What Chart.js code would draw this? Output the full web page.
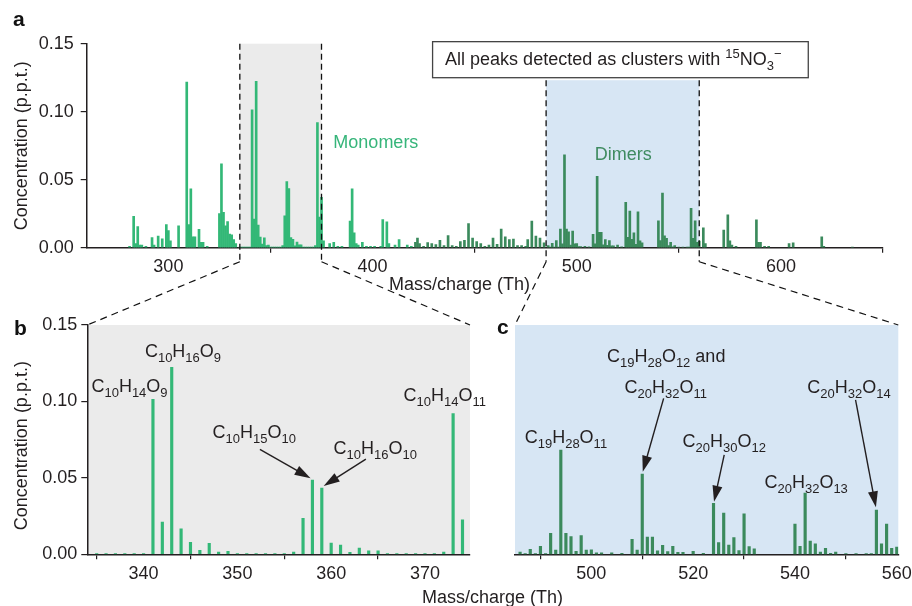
<!DOCTYPE html>
<html>
<head>
<meta charset="utf-8">
<title>HOM monomers and dimers</title>
<script src="https://cdn.jsdelivr.net/npm/chart.js@4.4.1/dist/chart.umd.min.js"></script>
<style>
  body { margin: 0; background: #fff; }
  #figure { position: relative; width: 912px; height: 606px; }
  #figure canvas { position: absolute; left: 0; top: 0; }
</style>
</head>
<body>
<div id="figure">
  <canvas id="chartA" width="912" height="606"></canvas>
  <canvas id="chartB" width="912" height="606"></canvas>
  <canvas id="chartC" width="912" height="606"></canvas>
</div>
<script>
// Peaks: mass/charge (Th) and concentration (p.p.t.)
const monoMz = [
  281, 283, 284, 285, 286, 287, 289, 292, 293, 295, 297, 299, 300, 301, 305,
  309, 310, 311, 312, 313, 315, 316, 317, 319,
  325, 326, 327, 328, 329, 330, 331, 332, 333,
  335, 336, 337, 338, 339, 340, 341, 342, 343, 344, 345, 346, 347, 348, 349,
  350, 351, 352, 353, 354, 355, 356, 357, 358, 359, 360, 361, 362, 363, 364, 365,
  366, 367, 368, 369, 370, 371, 372, 373, 374, 375, 376, 379, 381, 383, 385,
  389, 390, 391, 392, 393, 395, 397, 399, 401, 404, 405, 407, 408, 411, 413, 417, 419
];
const monoVal = [
  0.001, 0.023, 0.003, 0.0156, 0.002, 0.002, 0.001, 0.0075, 0.002, 0.0085, 0.0065, 0.017, 0.0125, 0.005, 0.016,
  0.1217, 0.017, 0.0432, 0.008, 0.008, 0.0135, 0.004, 0.004, 0.001,
  0.025, 0.0616, 0.026, 0.016, 0.0192, 0.010, 0.0095, 0.006, 0.003,
  0.0003, 0.0003, 0.0003, 0.0003, 0.0003, 0.0005, 0.1014, 0.0211, 0.1223, 0.0166, 0.0078, 0.0026, 0.0072, 0.0015, 0.002,
  0.0003, 0.0003, 0.0003, 0.0003, 0.0003, 0.0005, 0.0015, 0.0235, 0.0486, 0.0434, 0.0074, 0.0061, 0.0013, 0.0041, 0.0022, 0.0022,
  0.0003, 0.0003, 0.0003, 0.0003, 0.0003, 0.0005, 0.0015, 0.092, 0.0225, 0.037, 0.005, 0.003, 0.004, 0.001, 0.001,
  0.0195, 0.0432, 0.011, 0.003, 0.002, 0.004, 0.001, 0.001, 0.001, 0.001, 0.0207, 0.019, 0.003, 0.002, 0.006, 0.002, 0.001
];
const dimerMz = [
  421, 422, 423, 425, 427, 429, 431, 433, 435, 437, 439, 441, 443, 445, 447, 449, 451,
  453, 455, 457, 459, 461, 463, 465, 467, 469, 471, 473, 475, 476, 478, 480, 482, 484,
  486, 487, 488, 489, 490, 491, 492, 493, 494, 495, 496, 497, 498, 499, 500, 501, 502, 504, 506,
  508, 509, 510, 511, 512, 513, 514, 515, 516, 517, 518, 520, 522,
  524, 525, 526, 527, 528, 529, 530, 531, 532,
  540, 541, 542, 543, 544, 545, 546, 547, 548, 550, 552, 554, 555,
  556, 557, 558, 559, 560,
  562, 563, 572, 574, 575, 576, 578, 588, 589, 590, 592, 594, 604, 606, 620, 621, 635
];
const dimerVal = [
  0.004, 0.007, 0.003, 0.001, 0.0038, 0.003, 0.0023, 0.0055, 0.0015, 0.009, 0.0015, 0.001, 0.0045, 0.0055, 0.0178, 0.007, 0.0045,
  0.003, 0.001, 0.002, 0.007, 0.0025, 0.0137, 0.008, 0.006, 0.0063, 0.0015, 0.0015, 0.001, 0.006, 0.0195, 0.0085, 0.007, 0.0035,
  0.0015, 0.0005, 0.0033, 0.0005, 0.0052, 0.0005, 0.0137, 0.0028, 0.0682, 0.0137, 0.0116, 0.002, 0.0122, 0.0028, 0.003, 0.0009, 0.0009, 0.001, 0.0006,
  0.0098, 0.0028, 0.0525, 0.0113, 0.0113, 0.0022, 0.0059, 0.0017, 0.0052, 0.0013, 0.0013, 0.002, 0.0006,
  0.0334, 0.0076, 0.027, 0.0061, 0.0109, 0.0024, 0.0264, 0.005, 0.0035,
  0.0198, 0.0052, 0.0401, 0.0087, 0.0068, 0.0015, 0.0039, 0.0006, 0.0015, 0.0004, 0.0004, 0.0004, 0.0004,
  0.029, 0.0068, 0.0198, 0.0039, 0.0048,
  0.0147, 0.003, 0.013, 0.0242, 0.005, 0.002, 0.001, 0.0205, 0.004, 0.004, 0.001, 0.001, 0.003, 0.0035, 0.008, 0.001, 0.0005
];

const xTicksA = [300, 400, 500, 600];
const xTicksB = [340, 350, 360, 370];
const xTicksC = [500, 520, 540, 560];
const yTicks = [0, 0.05, 0.10, 0.15];

const monoWindow = [335, 375];   // grey zoom window (panel b)
const dimerWindow = [485, 560];  // blue zoom window (panel c)

// peak labels, placed in data units (Th, p.p.t.)
const labelsB = [
  { text: 'C_{10}H_{14}O_{9}', x: 338.5, y: 0.1064 },
  { text: 'C_{10}H_{16}O_{9}', x: 344.2, y: 0.1293 },
  { text: 'C_{10}H_{15}O_{10}', x: 351.8, y: 0.0761 },
  { text: 'C_{10}H_{16}O_{10}', x: 364.7, y: 0.0656 },
  { text: 'C_{10}H_{14}O_{11}', x: 372.1, y: 0.1005 }
];
const arrowsB = [
  [352.4, 0.0687, 357.8, 0.0497],
  [363.7, 0.0623, 359.2, 0.0447]
];
const labelsC = [
  { text: 'C_{19}H_{28}O_{12} and', x: 514.7, y: 0.126 },
  { text: 'C_{20}H_{32}O_{11}', x: 514.6, y: 0.1053 },
  { text: 'C_{19}H_{28}O_{11}', x: 495.0, y: 0.0726 },
  { text: 'C_{20}H_{30}O_{12}', x: 526.1, y: 0.070 },
  { text: 'C_{20}H_{32}O_{13}', x: 542.2, y: 0.0432 },
  { text: 'C_{20}H_{32}O_{14}', x: 550.6, y: 0.1053 }
];
const arrowsC = [
  [514.2, 0.102, 510.1, 0.054],
  [526.1, 0.065, 524.1, 0.0344],
  [551.9, 0.101, 555.9, 0.0307]
];

const FONT = "'Liberation Sans', Arial, sans-serif";
const INK = '#231f20';
const MONO = '#33b877';
const DIMER = '#3b8a5c';
const GREY_BG = '#ebebeb';
const BLUE_BG = '#d7e6f4';

const toPoints = (mz, val, lo, hi) =>
  mz.map((m, i) => ({ x: m, y: val[i] })).filter(p => p.x >= lo && p.x <= hi);

// text with _{sub} and ^{sup} runs
function richText(ctx, str, x, y, size, align) {
  const parts = [];
  const re = /([_^])\{([^}]*)\}|([^_^]+)/g;
  let m;
  while ((m = re.exec(str))) {
    if (m[3]) parts.push({ t: m[3], k: 0 });
    else parts.push({ t: m[2], k: m[1] === '_' ? 1 : -1 });
  }
  const small = Math.round(size * 0.72);
  let w = 0;
  parts.forEach(p => {
    ctx.font = (p.k ? small : size) + 'px ' + FONT;
    p.w = ctx.measureText(p.t).width;
    w += p.w;
  });
  let cx = align === 'left' ? x : x - w / 2;
  ctx.textAlign = 'left';
  ctx.textBaseline = 'alphabetic';
  parts.forEach(p => {
    ctx.font = (p.k ? small : size) + 'px ' + FONT;
    const dy = p.k === 1 ? size * 0.28 : p.k === -1 ? -size * 0.4 : 0;
    ctx.fillText(p.t, cx, y + dy);
    cx += p.w;
  });
}

function arrow(ctx, x1, y1, x2, y2) {
  const a = Math.atan2(y2 - y1, x2 - x1), L = 16, W = 5;
  ctx.lineWidth = 1.4;
  ctx.beginPath();
  ctx.moveTo(x1, y1);
  ctx.lineTo(x2 - L * 0.8 * Math.cos(a), y2 - L * 0.8 * Math.sin(a));
  ctx.stroke();
  ctx.beginPath();
  ctx.moveTo(x2, y2);
  ctx.lineTo(x2 - L * Math.cos(a) + W * Math.sin(a), y2 - L * Math.sin(a) - W * Math.cos(a));
  ctx.lineTo(x2 - L * Math.cos(a) - W * Math.sin(a), y2 - L * Math.sin(a) + W * Math.cos(a));
  ctx.closePath();
  ctx.fill();
}

function vText(ctx, text, x, y) {
  ctx.save();
  ctx.translate(x, y);
  ctx.rotate(-Math.PI / 2);
  ctx.textAlign = 'center';
  ctx.textBaseline = 'middle';
  ctx.fillText(text, 0, 0);
  ctx.restore();
}

function panelLetter(ctx, ch, x, y) {
  ctx.font = 'bold 21px ' + FONT;
  ctx.fillStyle = '#111';
  ctx.textAlign = 'left';
  ctx.textBaseline = 'alphabetic';
  ctx.fillText(ch, x, y);
}

function drawNotes(chart, labels, arrows) {
  const { ctx, scales: { x, y } } = chart;
  ctx.save();
  ctx.fillStyle = INK;
  ctx.strokeStyle = INK;
  labels.forEach(l => richText(ctx, l.text, x.getPixelForValue(l.x), y.getPixelForValue(l.y), 18, 'center'));
  arrows.forEach(a => arrow(ctx, x.getPixelForValue(a[0]), y.getPixelForValue(a[1]),
                                 x.getPixelForValue(a[2]), y.getPixelForValue(a[3])));
  ctx.restore();
}

function xAxis(min, max, ticks) {
  return {
    type: 'linear', min, max, offset: false,
    afterBuildTicks: s => { s.ticks = ticks.map(v => ({ value: v })); },
    afterFit: s => { s.height = 30; s.paddingLeft = 0; s.paddingRight = 0; },
    grid: { drawOnChartArea: false, tickLength: 5, color: INK, lineWidth: 1.2 },
    border: { color: INK, width: 1.5 },
    ticks: { color: INK, font: { family: FONT, size: 18 }, padding: 4, maxRotation: 0, autoSkip: false }
  };
}

function yAxis(show, pad) {
  return {
    type: 'linear', min: 0, max: 0.15, display: show,
    afterBuildTicks: s => { s.ticks = yTicks.map(v => ({ value: v })); },
    afterFit: s => { s.width = show ? 60 : 0; s.paddingTop = 0; s.paddingBottom = 0; },
    grid: { drawOnChartArea: false, tickLength: 6, color: INK, lineWidth: 1.2 },
    border: { color: INK, width: 1.5 },
    ticks: { color: INK, font: { family: FONT, size: 18 }, padding: pad, callback: v => v.toFixed(2) }
  };
}

function bars(points, color, width) {
  return { data: points, backgroundColor: color, borderWidth: 0, barThickness: width, grouped: false };
}

function makeChart(id, datasets, x, y, padding, plugin) {
  return new Chart(document.getElementById(id), {
    type: 'bar',
    data: { datasets },
    options: {
      responsive: false, animation: false, events: [],
      layout: { padding },
      plugins: { legend: { display: false }, tooltip: { enabled: false } },
      scales: { x, y }
    },
    plugins: [plugin]
  });
}

// note box above the dimer window, in data units
const noteBox = { x0: 429.4, x1: 613.4, y0: 0.1515, y1: 0.125 };

const panelA = {
  id: 'panelA',
  beforeDraw(chart) {
    const { ctx, chartArea: a, scales: { x, y } } = chart;
    ctx.save();
    ctx.fillStyle = GREY_BG;
    const g0 = x.getPixelForValue(monoWindow[0]), g1 = x.getPixelForValue(monoWindow[1]);
    ctx.fillRect(g0, a.top, g1 - g0, a.bottom - a.top);
    ctx.fillStyle = BLUE_BG;
    const b0 = x.getPixelForValue(dimerWindow[0]), b1 = x.getPixelForValue(dimerWindow[1]);
    const bt = y.getPixelForValue(noteBox.y1) + 2.5;
    ctx.fillRect(b0, bt, b1 - b0, a.bottom - bt);
    ctx.restore();
  },
  afterDraw(chart) {
    const { ctx, chartArea: a, scales: { x, y } } = chart;
    ctx.save();
    const bt = y.getPixelForValue(noteBox.y1) + 2.5;
    ctx.strokeStyle = '#111';
    ctx.lineWidth = 1.3;
    ctx.setLineDash([6, 4]);
    [[monoWindow[0], a.top], [monoWindow[1], a.top], [dimerWindow[0], bt], [dimerWindow[1], bt]].forEach(([v, top]) => {
      const px = x.getPixelForValue(v);
      ctx.beginPath();
      ctx.moveTo(px, top);
      ctx.lineTo(px, a.bottom + 14);
      ctx.stroke();
    });
    ctx.setLineDash([]);

    // note box
    const bx0 = x.getPixelForValue(noteBox.x0), bx1 = x.getPixelForValue(noteBox.x1);
    const by0 = y.getPixelForValue(noteBox.y0), by1 = y.getPixelForValue(noteBox.y1);
    ctx.fillStyle = '#fff';
    ctx.fillRect(bx0, by0, bx1 - bx0, by1 - by0);
    ctx.strokeStyle = '#444';
    ctx.lineWidth = 1.3;
    ctx.strokeRect(bx0, by0, bx1 - bx0, by1 - by0);
    ctx.fillStyle = INK;
    richText(ctx, 'All peaks detected as clusters with ^{15}NO_{3}^{\u2212}', bx0 + 12.5, by0 + 23.5, 18, 'left');

    ctx.font = '18px ' + FONT;
    ctx.textBaseline = 'middle';
    ctx.textAlign = 'left';
    ctx.fillStyle = '#36b57a';
    ctx.fillText('Monomers', x.getPixelForValue(380.8), y.getPixelForValue(0.0768));
    ctx.textAlign = 'center';
    ctx.fillStyle = '#3f8b60';
    ctx.fillText('Dimers', x.getPixelForValue(522.8), y.getPixelForValue(0.0682));

    ctx.fillStyle = INK;
    vText(ctx, 'Concentration (p.p.t.)', 21.7, (a.top + a.bottom) / 2);
    ctx.textAlign = 'center';
    ctx.textBaseline = 'middle';
    ctx.fillText('Mass/charge (Th)', 459.5, a.bottom + 37);
    panelLetter(ctx, 'a', 13, 26);
    ctx.restore();
  }
};

const panelB = {
  id: 'panelB',
  beforeDraw(chart) {
    const { ctx, chartArea: a } = chart;
    ctx.save();
    ctx.fillStyle = GREY_BG;
    ctx.fillRect(a.left, a.top, a.right - a.left, a.bottom - a.top);
    ctx.restore();
  },
  afterDraw(chart) {
    const { ctx, chartArea: a } = chart;
    drawNotes(chart, labelsB, arrowsB);
    ctx.save();
    ctx.fillStyle = INK;
    ctx.font = '18px ' + FONT;
    vText(ctx, 'Concentration (p.p.t.)', 21.7, (a.top + a.bottom) / 2 + 6);
    panelLetter(ctx, 'b', 14, 335);
    ctx.restore();
  }
};

let chartA, chartB;

const panelC = {
  id: 'panelC',
  beforeDraw(chart) {
    const { ctx, chartArea: a } = chart;
    ctx.save();
    ctx.fillStyle = BLUE_BG;
    ctx.fillRect(a.left, a.top, a.right - a.left, a.bottom - a.top);
    ctx.restore();
  },
  afterDraw(chart) {
    const { ctx, chartArea: c } = chart;
    drawNotes(chart, labelsC, arrowsC);
    ctx.save();
    ctx.fillStyle = INK;
    ctx.font = '18px ' + FONT;
    ctx.textAlign = 'center';
    ctx.textBaseline = 'middle';
    ctx.fillText('Mass/charge (Th)', 492.5, 598);
    panelLetter(ctx, 'c', 497, 334);

    // dashed zoom connectors from panel a windows to panels b and c
    const a = chartA.chartArea, xa = chartA.scales.x, b = chartB.chartArea;
    const y0 = a.bottom + 14;
    ctx.strokeStyle = '#111';
    ctx.lineWidth = 1.2;
    ctx.setLineDash([7, 5]);
    [[monoWindow[0], b.left, b.top], [monoWindow[1], b.right, b.top],
     [dimerWindow[0], c.left, c.top], [dimerWindow[1], c.right, c.top]].forEach(([v, tx, ty]) => {
      ctx.beginPath();
      ctx.moveTo(xa.getPixelForValue(v), y0);
      ctx.lineTo(tx, ty);
      ctx.stroke();
    });
    ctx.restore();
  }
};

Chart.defaults.font.family = FONT;
Chart.defaults.color = INK;

chartA = makeChart('chartA',
  [bars(toPoints(monoMz, monoVal, 260, 650), MONO, 2), bars(toPoints(dimerMz, dimerVal, 260, 650), DIMER, 2)],
  xAxis(260, 650, xTicksA), yAxis(true, 7),
  { left: 26.7, right: 29, top: 43.7, bottom: 328.3 }, panelA);

chartB = makeChart('chartB',
  [bars(toPoints(monoMz, monoVal, 334, 374.8), MONO, 2.5)],
  xAxis(334, 374.8, xTicksB), yAxis(true, 4),
  { left: 27.3, right: 442, top: 325, bottom: 21.7 }, panelB);

makeChart('chartC',
  [bars(toPoints(dimerMz, dimerVal, dimerWindow[0], dimerWindow[1]), DIMER, 2.5)],
  xAxis(dimerWindow[0], 560.3, xTicksC), yAxis(false, 4),
  { left: 515, right: 13.7, top: 325, bottom: 21.7 }, panelC);
</script>
</body>
</html>
